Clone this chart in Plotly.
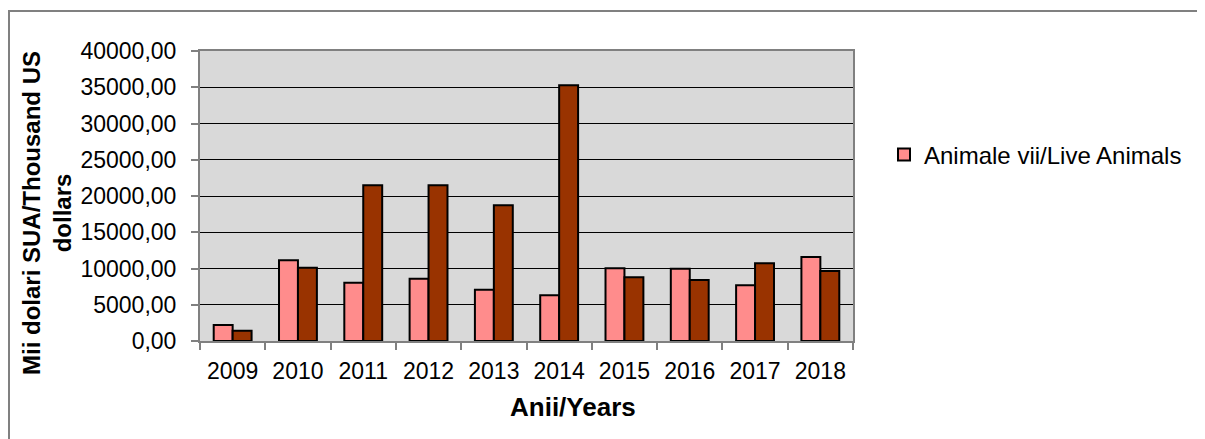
import plotly.graph_objects as go

years = ["2009", "2010", "2011", "2012", "2013", "2014", "2015", "2016", "2017", "2018"]
live_animals = [2200, 11130, 8050, 8600, 7080, 6300, 10020, 9980, 7680, 11590]
second_series = [1400, 10110, 21470, 21470, 18710, 35260, 8780, 8410, 10710, 9660]
y_tickvals = [0, 5000, 10000, 15000, 20000, 25000, 30000, 35000, 40000]
y_ticktext = ["0,00", "5000,00", "10000,00", "15000,00", "20000,00", "25000,00",
              "30000,00", "35000,00", "40000,00"]

OFF = 8  # page body margin
W, H = 1205 - OFF, 439 - OFF
PL, PR, PT, PB = 200, 853, 51, 341  # target plot area in window pixels
L, T = PL - OFF, PT - OFF
pw, ph = PR - PL, PB - PT
R = W - L - pw
B = H - T - ph

def px(p):
    return (p - PL) / pw

def py(p):
    return (PB - p) / ph

FONT = "Liberation Sans, Arial, sans-serif"

fig = go.Figure()
fig.add_trace(go.Bar(x=years, y=live_animals, name="Animale vii/Live Animals",
                     marker=dict(color="#FF8C8C", line=dict(color="#000000", width=2))))
fig.add_trace(go.Bar(x=years, y=second_series, name="", showlegend=False,
                     marker=dict(color="#993300", line=dict(color="#000000", width=2))))

fig.update_layout(
    width=W, height=H,
    margin=dict(l=L, r=R, t=T, b=B, autoexpand=False),
    paper_bgcolor="white",
    plot_bgcolor="#D9D9D9",
    barmode="group",
    bargap=0.42,
    bargroupgap=0,
    font=dict(family=FONT, size=23, color="black"),
    showlegend=True,
    legend=dict(x=px(884), y=py(155), xanchor="left", yanchor="middle",
                font=dict(family=FONT, size=24, color="black"),
                itemwidth=30, bgcolor="rgba(0,0,0,0)"),
    xaxis=dict(
        tickson="boundaries", ticks="outside", ticklen=7, tickcolor="#808080", tickwidth=2,
        showline=True, linecolor="#808080", linewidth=2, mirror=True,
        showgrid=False, tickfont=dict(size=23), ticklabelstandoff=8,
    ),
    yaxis=dict(
        range=[0, 40000], tickvals=y_tickvals, ticktext=y_ticktext,
        ticks="outside", ticklen=7, tickcolor="#808080", tickwidth=2,
        showline=True, linecolor="#808080", linewidth=2, mirror=True,
        showgrid=True, gridcolor="#000000", gridwidth=1,
        zeroline=False, tickfont=dict(size=23), ticklabelstandoff=10,
    ),
)

fig.add_annotation(text="<b>Mii dolari SUA/Thousand US<br>dollars</b>",
                   xref="paper", yref="paper", x=px(47), y=py(213),
                   xanchor="center", yanchor="middle", textangle=-90,
                   showarrow=False, font=dict(family=FONT, size=24, color="black"))

fig.add_annotation(text="<b>Anii/Years</b>",
                   xref="paper", yref="paper", x=px(573), y=py(407),
                   xanchor="center", yanchor="middle",
                   showarrow=False, font=dict(family=FONT, size=26, color="black"))

fig.add_shape(type="rect", xref="paper", yref="paper",
              x0=px(9), x1=px(1230), y0=py(11), y1=py(470),
              line=dict(color="#808080", width=2), fillcolor="rgba(0,0,0,0)", layer="above")

fig.write_html("out.html")
